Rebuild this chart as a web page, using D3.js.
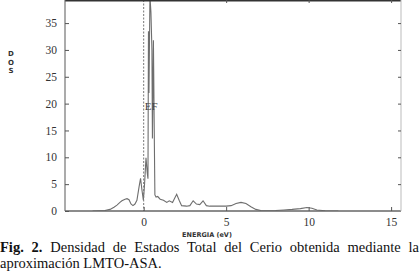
<!DOCTYPE html>
<html>
<head>
<meta charset="utf-8">
<script src="https://cdn.jsdelivr.net/npm/d3@7"></script>
<style>
  body { margin: 0; background: #fff; }
  svg { display: block; }
</style>
</head>
<body>
<svg id="chart" width="420" height="277"></svg>
<script>
// energia (eV) y densidad de estados
var energia = [-3.1, -2.65, -2.35, -2.04, -1.8, -1.62, -1.44, -1.32, -1.13, -1.01, -0.89, -0.77, -0.65, -0.53, -0.41,
  -0.28, -0.19, -0.10, -0.02, 0.05, 0.14, 0.22, 0.26, 0.29, 0.32, 0.38, 0.44, 0.50, 0.53, 0.59, 0.65, 0.68,
  0.75, 0.85, 1.0, 1.2, 1.4, 1.55, 1.75, 1.9, 2.0, 2.15, 2.3, 2.6, 2.8, 3.0, 3.2, 3.4, 3.6, 3.8, 4.0, 4.5,
  5.0, 5.3, 5.6, 5.9, 6.2, 6.5, 6.8, 7.1, 7.5, 8.0, 8.5, 9.0, 9.5, 9.9, 10.2, 10.5, 11.0, 11.8];
var dos = [0, 0.05, 0.1, 0.3, 0.7, 1.1, 1.6, 1.9, 2.2, 2.3, 2.1, 1.3, 1.0, 1.3, 2.0,
  4.5, 6.1, 3.8, 2.0, 4.8, 9.9, 7.0, 6.0, 33.5, 22, 40, 37, 30, 13.5, 31.8, 12, 3,
  2.6, 2.7, 2.2, 2.0, 1.6, 1.9, 1.6, 2.5, 3.1, 2.0, 1.0, 0.9, 1.0, 1.9, 1.3, 1.2, 1.9, 1.0, 0.9, 0.9,
  0.9, 1.0, 1.4, 1.6, 1.4, 0.8, 0.3, 0.1, 0.05, 0.1, 0.2, 0.3, 0.45, 0.65, 0.5, 0.2, 0.05, 0];
var xTicks = [0, 5, 10, 15];
var yTicks = [0, 5, 10, 15, 20, 25, 30, 35];

var svg = d3.select("#chart");
var mLeft = 65, mRight = 401, mTop = 0, mBottom = 211;

var x = d3.scaleLinear().domain([-4.77, 15.6]).range([mLeft, mRight]);
var y = d3.scaleLinear().domain([0, 39.3]).range([mBottom, mTop]);

svg.append("defs").append("clipPath").attr("id", "plot")
  .append("rect").attr("x", mLeft).attr("y", mTop).attr("width", mRight - mLeft).attr("height", mBottom - mTop);

// curva DOS
var line = d3.line()
  .x(function(d, i) { return x(energia[i]); })
  .y(function(d) { return y(d); });

svg.append("path")
  .datum(dos)
  .attr("clip-path", "url(#plot)")
  .attr("d", line)
  .attr("fill", "none")
  .attr("stroke", "#6e6e6e")
  .attr("stroke-width", 1.1);

// nivel de Fermi
svg.append("line")
  .attr("x1", x(0)).attr("x2", x(0))
  .attr("y1", mTop).attr("y2", mBottom)
  .attr("stroke", "#777").attr("stroke-width", 1)
  .attr("stroke-dasharray", "2,1.5");

svg.append("text")
  .attr("x", x(0) + 1).attr("y", 110)
  .attr("font-family", "Liberation Serif, serif")
  .attr("font-size", 11).attr("fill", "#444")
  .text("EF");

// marco
var tick = "#555";
svg.append("line").attr("x1", mLeft).attr("x2", mRight).attr("y1", mTop + 0.7).attr("y2", mTop + 0.7)
  .attr("stroke", "#333").attr("stroke-width", 1.5);
svg.append("line").attr("x1", mLeft).attr("x2", mRight).attr("y1", mBottom).attr("y2", mBottom)
  .attr("stroke", "#666").attr("stroke-width", 1.3);
svg.append("line").attr("x1", mLeft).attr("x2", mLeft).attr("y1", mTop).attr("y2", mBottom)
  .attr("stroke", "#666").attr("stroke-width", 1.1);
svg.append("line").attr("x1", mRight).attr("x2", mRight).attr("y1", mTop).attr("y2", mBottom)
  .attr("stroke", "#bbb").attr("stroke-width", 1);

// ejes
svg.append("g").attr("transform", "translate(" + mLeft + ",0)")
  .call(d3.axisLeft(y).tickValues(yTicks).tickSize(-4).tickPadding(8));
svg.append("g").attr("transform", "translate(0," + mBottom + ")")
  .call(d3.axisBottom(x).tickValues(xTicks).tickSize(-4).tickPadding(7));
svg.append("g").attr("transform", "translate(" + mRight + ",0)")
  .call(d3.axisRight(y).tickValues(yTicks.slice(1)).tickSize(-3).tickFormat(""));
svg.append("g").attr("transform", "translate(0," + mTop + ")")
  .call(d3.axisTop(x).tickValues(xTicks.slice(1)).tickSize(-3).tickFormat(""));

svg.selectAll(".domain").remove();
svg.selectAll(".tick line").attr("stroke", tick);
svg.selectAll(".tick text")
  .attr("font-family", "Liberation Serif, serif")
  .attr("font-size", 11.5)
  .attr("fill", "#333");

// etiquetas de ejes
["D", "O", "S"].forEach(function(c, i) {
  svg.append("text")
    .attr("x", 11).attr("y", 56 + i * 8.5)
    .attr("text-anchor", "middle")
    .attr("font-family", "DejaVu Sans, sans-serif")
    .attr("font-weight", "bold").attr("font-size", 7)
    .attr("fill", "#333")
    .text(c);
});
svg.append("text")
  .attr("x", 207).attr("y", 237)
  .attr("text-anchor", "middle")
  .attr("font-family", "DejaVu Sans, sans-serif")
  .attr("font-weight", "bold").attr("font-size", 6.5)
  .attr("fill", "#333")
  .text("ENERGIA (eV)");

// pie de figura
var cap1 = svg.append("text")
  .attr("x", 0).attr("y", 252)
  .attr("font-family", "Liberation Serif, serif")
  .attr("font-size", 14.5).attr("fill", "#111");
cap1.append("tspan").attr("font-weight", "bold").text("Fig. 2.");
cap1.append("tspan").text(" Densidad de Estados Total del Cerio obtenida mediante la");
var w = cap1.node().getComputedTextLength();
var gaps = 10;
cap1.attr("word-spacing", (419 - w) / gaps);

svg.append("text")
  .attr("x", 0).attr("y", 268)
  .attr("font-family", "Liberation Serif, serif")
  .attr("font-size", 14.5).attr("fill", "#111")
  .text("aproximación LMTO-ASA.");
</script>
</body>
</html>
